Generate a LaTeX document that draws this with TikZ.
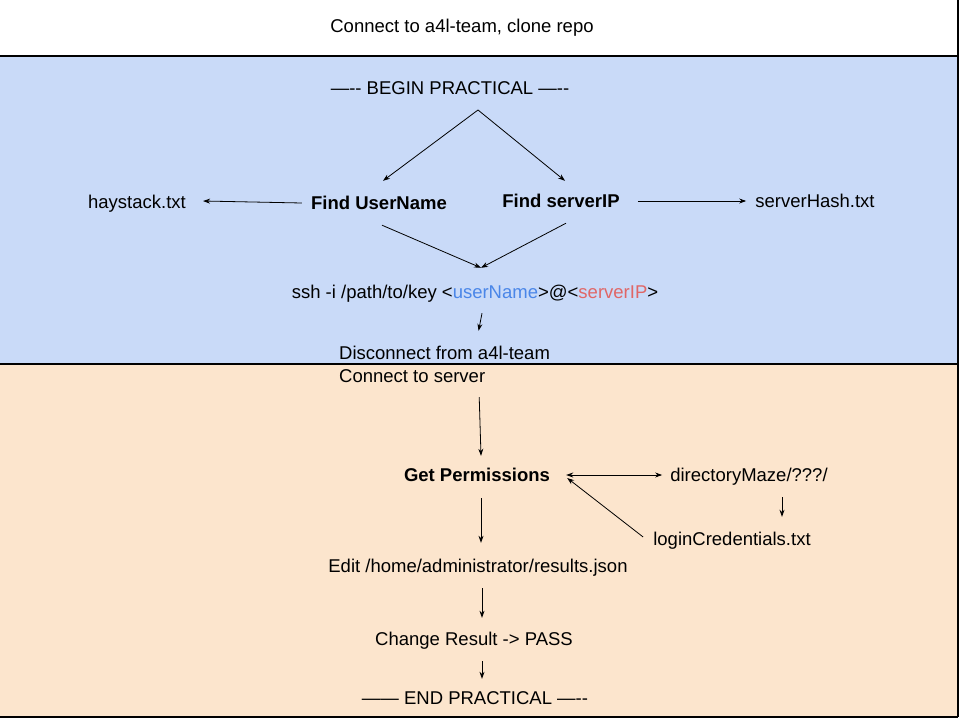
\documentclass[tikz,border=0pt]{standalone}
\usepackage{fontspec}
\setmainfont{Liberation Sans}
\usetikzlibrary{arrows.meta}

\begin{document}
\begin{tikzpicture}[x=1pt,y=-1pt,
  txt/.style={inner sep=0pt,text height=13.2pt,text depth=0pt,
    font=\fontsize{18.5}{22}\selectfont},
  btxt/.style={txt,font=\fontsize{18.5}{22}\selectfont\bfseries},
  arr/.style={line width=0.8pt,-{Stealth[length=7pt,width=5pt]}},
  band/.style={line width=1.5pt}]

\def\blueband {C9DAF8} \def\orangeband {FCE5CD}
\def\uname {4A86E8} \def\sip {E06666}
\definecolor{bluebg}{HTML}{\blueband}
\definecolor{orangebg}{HTML}{\orangeband}
\definecolor{ucol}{HTML}{\uname}
\definecolor{scol}{HTML}{\sip}

\useasboundingbox (0,0) rectangle (960,720);

% bands
\fill[bluebg] (0,56) rectangle (958,364);
\fill[orangebg] (0,364) rectangle (958,717);
\draw[band] (0,56) -- (958,56);
\draw[band] (0,364) -- (958,364);
\draw[band] (0,717) -- (958,717);
\draw[band] (958,0) -- (958,717);

% texts
\node[txt] (clone) at (462,26) {Connect to a4l-team, clone repo};
\node[txt] (begin) at (450,88) {—-{}- BEGIN PRACTICAL —-{}-};
\coordinate (split) at (478,110);
\node[btxt] (user) at (379,203) {Find UserName};
\node[btxt] (server) at (561,201) {Find serverIP};
\node[txt] (hay) at (137,202) {haystack.txt};
\node[txt] (hash) at (815,201) {serverHash.txt};
\node[txt] (ssh) at (475,292)
  {ssh -i /path/to/key <\textcolor{ucol}{userName}>@<\textcolor{scol}{serverIP}>};
\node[txt,anchor=west] (disc) at (339,353) {Disconnect from a4l-team};
\node[txt,anchor=west] (conn) at (339,376) {Connect to server};
\node[btxt] (perm) at (477,475) {Get Permissions};
\node[txt] (maze) at (749,475) {directoryMaze/???/};
\node[txt] (login) at (732,539) {loginCredentials.txt};
\node[txt] (edit) at (478,566) {Edit /home/administrator/results.json};
\node[txt] (change) at (474,639) {Change Result -> PASS};
\node[txt] (endp) at (475,698) {—— END PRACTICAL —-{}-};

% connectors
\draw[arr] (split) -- ([shift={(4,-15.4)}]user.north);
\draw[arr] (split) -- ([shift={(4,-13.4)}]server.north);
\draw[arr] ([shift={(-9,0)}]user.west) -- ([shift={(17,-1)}]hay.east);
\draw[arr] ([shift={(18,0)}]server.east) -- ([shift={(-9,0)}]hash.west);
\draw[arr] ([shift={(3,15.4)}]user.south) -- ([shift={(6,-17.4)}]ssh.north);
\draw[arr] ([shift={(5,15.4)}]server.south) -- ([shift={(6,-17.4)}]ssh.north);
\draw[arr] ([shift={(7,14.4)}]ssh.south) -- ([shift={(34,-15.4)}]disc.north);
\draw[arr] ([shift={(67,14.4)}]conn.south) -- ([shift={(4,-12.4)}]perm.north);
\draw[arr,{Stealth[length=7pt,width=5pt]}-{Stealth[length=7pt,width=5pt]}]
  ([shift={(16,0)}]perm.east) -- ([shift={(-8,0)}]maze.west);
\draw[arr] ([shift={(33,15.4)}]maze.south) -- ([shift={(50,-15.4)}]login.north);
\draw[arr] ([shift={(-10,-2)}]login.west) -- ([shift={(17,3)}]perm.east);
\draw[arr] ([shift={(4,16.4)}]perm.south) -- ([shift={(3,-16.4)}]edit.north);
\draw[arr] ([shift={(4,15.4)}]edit.south) -- ([shift={(8,-14.4)}]change.north);
\draw[arr] ([shift={(8,15.4)}]change.south) -- ([shift={(7,-12.4)}]endp.north);

\end{tikzpicture}
\end{document}
